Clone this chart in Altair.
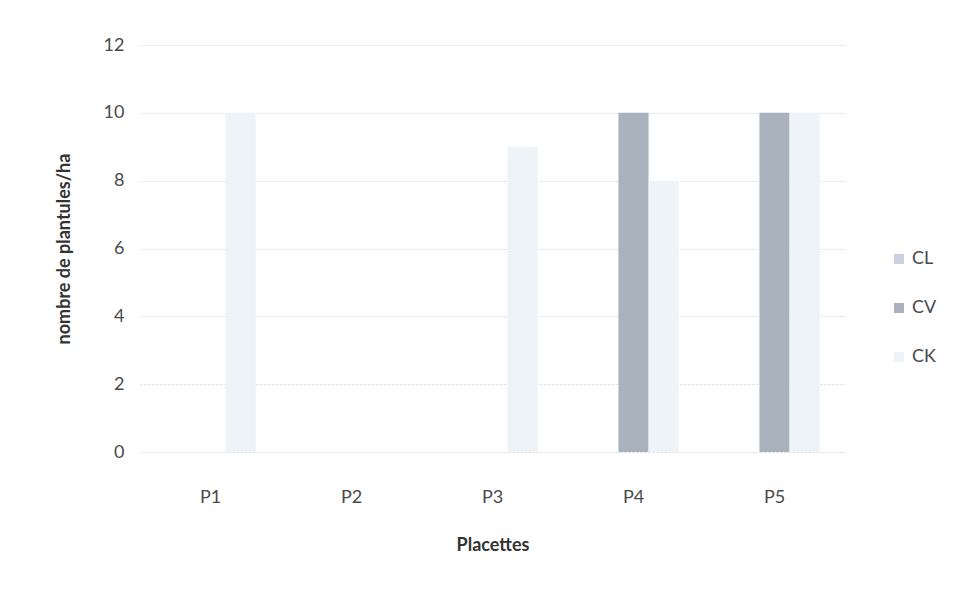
import altair as alt
import pandas as pd

placettes = ["P1", "P2", "P3", "P4", "P5"]
series = ["CL", "CV", "CK"]
cl_values = [0, 0, 0, 0, 0]
cv_values = [0, 0, 0, 10, 10]
ck_values = [10, 0, 9, 8, 10]
y_ticks = [0, 2, 4, 6, 8, 10, 12]

rows = []
for name, vals in zip(series, [cl_values, cv_values, ck_values]):
    for p, v in zip(placettes, vals):
        rows.append({"Placette": p, "Série": name, "Valeur": v})
df = pd.DataFrame(rows)

colors = ["#c9d2de", "#a9b1bd", "#edf3f7"]
font = "Lato"

chart = alt.Chart(df).mark_bar().encode(
    x=alt.X("Placette:N", sort=placettes,
            scale=alt.Scale(paddingInner=0.36, paddingOuter=0.18),
            axis=alt.Axis(title="Placettes", labelAngle=0, labelFontSize=18,
                          labelColor="#4a4a4a", labelPadding=36, titleFontSize=18,
                          titleFontWeight="bold", titleColor="#333333", titlePadding=30,
                          domain=False, ticks=False, labelFont=font, titleFont=font)),
    xOffset=alt.XOffset("Série:N", sort=series),
    y=alt.Y("Valeur:Q", scale=alt.Scale(domain=[0, 12]),
            axis=alt.Axis(title="nombre de plantules/ha", values=y_ticks,
                          labelFontSize=18, labelColor="#4a4a4a", labelPadding=16,
                          titleFontSize=18, titleFontWeight="bold", titleColor="#333333",
                          titlePadding=30, domain=False, ticks=False,
                          gridColor="#d9d9d9", gridDash=[2, 2],
                          labelFont=font, titleFont=font)),
    color=alt.Color("Série:N", sort=series,
                    scale=alt.Scale(domain=series, range=colors),
                    legend=alt.Legend(title=None, orient="none", legendX=750, legendY=205,
                                      symbolType="square", symbolSize=100,
                                      labelFontSize=18, labelColor="#4a4a4a",
                                      rowPadding=31, labelFont=font)),
).properties(
    width=705, height=407,
    autosize=alt.AutoSizeParams(type="none"),
    padding={"left": 140, "top": 45, "right": 109, "bottom": 139},
).configure_view(stroke=None)

chart.save("out.html", embed_options={"renderer": "svg", "actions": False})
